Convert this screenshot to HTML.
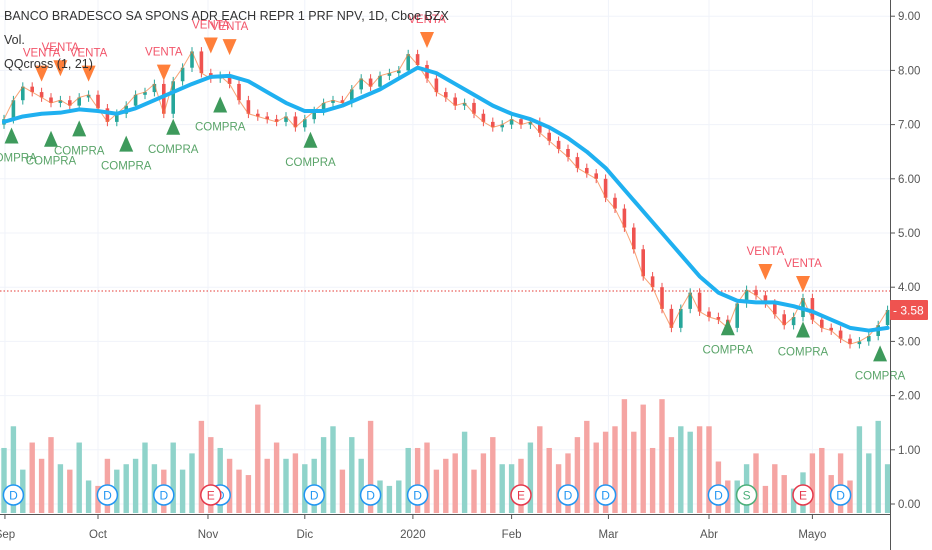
<!DOCTYPE html>
<html><head><meta charset="utf-8">
<style>
html,body{margin:0;padding:0;background:#fff;}
#wrap{position:relative;width:932px;height:550px;overflow:hidden;font-family:"Liberation Sans",sans-serif;}
svg{position:absolute;left:0;top:0;}
.lg{position:absolute;left:4px;font-size:12.5px;color:#333;}
</style></head>
<body>
<div id="wrap">
<svg id="svg" width="932" height="550"></svg>
<div class="lg" style="top:9px">BANCO BRADESCO SA SPONS ADR EACH REPR 1 PRF NPV, 1D, Cboe BZX</div>
<div class="lg" style="top:33px">Vol.</div>
<div class="lg" style="top:57px">QQcross (1, 21)</div>
</div>
<script>
const closes=[7.1,7.45,7.7,7.6,7.5,7.4,7.45,7.35,7.5,7.55,7.3,7.05,7.2,7.35,7.55,7.6,7.75,7.2,7.8,8.05,8.35,7.95,7.85,7.9,7.75,7.45,7.2,7.15,7.1,7.05,7.15,6.95,7.1,7.25,7.4,7.45,7.4,7.65,7.85,7.7,7.9,7.95,8.0,8.3,8.1,7.85,7.6,7.5,7.35,7.4,7.2,7.05,6.95,7.0,7.1,7.0,7.05,6.85,6.7,6.55,6.4,6.2,6.1,6.0,5.65,5.45,5.1,4.7,4.2,4.0,3.6,3.25,3.6,3.9,3.55,3.45,3.4,3.25,3.7,3.95,3.85,3.7,3.5,3.3,3.45,3.8,3.4,3.25,3.2,3.05,2.95,3.0,3.1,3.3,3.58];
const maValues=[7.05,7.15,7.2,7.22,7.28,7.25,7.2,7.3,7.45,7.6,7.75,7.88,7.9,7.8,7.6,7.4,7.25,7.25,7.35,7.5,7.65,7.85,8.05,7.95,7.75,7.55,7.35,7.2,7.1,6.95,6.75,6.5,6.2,5.8,5.4,5.0,4.6,4.2,3.9,3.75,3.72,3.72,3.65,3.55,3.4,3.25,3.2,3.25];
const volumes=[1.2,1.6,0.8,1.3,1.0,1.4,0.9,0.8,1.3,0.6,0.5,1.0,0.8,0.9,1.0,1.3,0.9,0.8,1.3,0.8,1.1,1.7,1.4,1.2,1.0,0.8,0.7,2.0,1.0,1.3,1.0,1.1,0.9,1.0,1.4,1.6,0.8,1.4,1.0,1.7,0.6,0.5,0.6,1.2,1.2,1.3,0.8,1.0,1.1,1.5,0.8,1.1,1.4,0.9,0.9,1.0,1.3,1.6,1.2,0.9,1.1,1.4,1.7,1.3,1.5,1.6,2.1,1.5,2.0,1.2,2.1,1.4,1.6,1.5,1.6,1.6,0.95,0.6,0.6,0.9,1.1,0.5,0.9,0.7,0.45,0.75,1.1,1.2,0.7,1.1,0.6,1.6,1.1,1.7,0.9];
const ventaIdx=[4,6,9,17,22,24,45,81,85];
const ventaPrice=[7.94,8.04,7.94,7.96,8.46,8.43,8.56,4.28,4.06];
const compraIdx=[0.8,5,8,13,18,23,32.6,77,85,93.2];
const compraPrice=[6.8,6.74,6.93,6.65,6.96,7.37,6.72,3.26,3.22,2.78];
const eventIdx=[1,11,17,23,22,33,39,44,55,60,64,76,79,85,89];
const eventType=["D","D","D","D","E","D","D","D","E","D","D","D","S","E","D"];
const monthLabels=["Sep","Oct","Nov","Dic","2020","Feb","Mar","Abr","Mayo"];
const monthIdx=[0.1,10,21.7,32,43.5,54,64.3,75,86];
const yTicks=[9,8,7,6,5,4,3,2,1,0];
const lastPrice=3.58, refLine=3.93;

const NS="http://www.w3.org/2000/svg";
const svg=document.getElementById('svg');
const X=i=>4+i*9.4;
const Y=p=>504-p*54.2;
const VY=v=>513-v*54.2;
function mk(tag,attrs,parent){const e=document.createElementNS(NS,tag);for(const k in attrs)e.setAttribute(k,attrs[k]);(parent||svg).appendChild(e);return e;}

// grid
yTicks.forEach(t=>{const l=mk('line',{x1:0,x2:890,y1:Y(t),y2:Y(t),stroke:'#f0f3fa','stroke-width':1});

});
monthIdx.forEach(m=>{const l=mk('line',{x1:X(m),x2:X(m),y1:0,y2:514,stroke:'#f0f3fa','stroke-width':1});

});

// volume
volumes.forEach((v,i)=>{const up=i==0||closes[i]>=closes[i-1];
const r=mk('rect',{x:X(i)-2.7,y:VY(v),width:5.4,height:513-VY(v),fill:up?'#8fd3ca':'#f5a5a3'});

});

// red ref line
const rl=mk('line',{x1:0,x2:890,y1:Y(refLine),y2:Y(refLine),stroke:'#e53935','stroke-width':1,'stroke-dasharray':'1.5,2'});



// candles
closes.forEach((c,i)=>{const o=i==0?c-0.1:closes[i-1];const up=c>=o;const col=up?'#26a69a':'#ef5350';
const hi=Math.max(o,c)+0.08, lo=Math.min(o,c)-0.08;
const w=mk('line',{x1:X(i),x2:X(i),y1:Y(hi),y2:Y(lo),stroke:col,'stroke-width':1});


const b=mk('rect',{x:X(i)-1.8,y:Y(Math.max(o,c)),width:3.6,height:Math.max(1,Math.abs(Y(o)-Y(c))),fill:col});

});
// close line (thin orange)
const cl=mk('polyline',{points:closes.map((c,i)=>X(i)+','+Y(c)).join(' '),fill:'none',stroke:'#f57c3a','stroke-width':1,opacity:0.7});



// MA
const ma=mk('polyline',{points:maValues.map((v,i)=>X(i*2)+','+Y(v)).join(' '),fill:'none',stroke:'#1fb0f0','stroke-width':4,'stroke-linejoin':'round','stroke-linecap':'round'});



// signals
ventaIdx.forEach((idx,k)=>{const x=X(idx),y=Y(ventaPrice[k]);
const t=mk('polygon',{points:`${x-7},${y-8} ${x+7},${y-8} ${x},${y+8}`,fill:'#ff7f3a'});


const tx=mk('text',{x:x,y:y-17,'text-anchor':'middle','font-size':11.5,fill:'#f2556a','font-family':'Liberation Sans, sans-serif'});
tx.textContent='VENTA';

});
compraIdx.forEach((idx,k)=>{const x=X(idx),y=Y(compraPrice[k]);
const t=mk('polygon',{points:`${x-7},${y+8} ${x+7},${y+8} ${x},${y-8}`,fill:'#3e9a5c'});


const tx=mk('text',{x:x,y:y+26,'text-anchor':'middle','font-size':11.5,fill:'#5aa469','font-family':'Liberation Sans, sans-serif'});
tx.textContent='COMPRA';

});

// events
eventIdx.forEach((idx,k)=>{const x=X(idx);const ty=eventType[k];const col=ty=='E'?'#e5394c':ty=='S'?'#4caf7a':'#2196f3';
const c=mk('circle',{cx:x,cy:495,r:10,fill:'#fff',stroke:col,'stroke-width':1.5});


const t=mk('text',{x:x,y:499.5,'text-anchor':'middle','font-size':12,fill:col,'font-family':'Liberation Sans, sans-serif'});
t.textContent=ty;

});

// axes
const ax=mk('line',{x1:890.5,x2:890.5,y1:0,y2:550,stroke:'#555','stroke-width':1});


const tx=mk('line',{x1:0,x2:890,y1:514.5,y2:514.5,stroke:'#555','stroke-width':1});


yTicks.forEach(t=>{const tk=mk('line',{x1:890,x2:895,y1:Y(t),y2:Y(t),stroke:'#555'});


const l=mk('text',{x:898,y:Y(t)+4,'font-size':11.5,fill:'#555','font-family':'Liberation Sans, sans-serif'});
l.textContent=t.toFixed(2);

});
monthLabels.forEach((m,k)=>{const x=X(monthIdx[k]);
const tk=mk('line',{x1:x,x2:x,y1:514,y2:519,stroke:'#555'});


const l=mk('text',{x:x,y:538,'text-anchor':'middle','font-size':11.5,fill:'#555','font-family':'Liberation Sans, sans-serif'});
l.textContent=m;

});

// last price tag
const py=Y(lastPrice);
const pr=mk('rect',{x:890,y:py-10,width:38,height:20,fill:'#ef5350',rx:1});


const pt=mk('text',{x:893,y:py+4.5,'font-size':12,fill:'#fff','font-family':'Liberation Sans, sans-serif'});
pt.textContent='- '+lastPrice.toFixed(2);


</script>
</body></html>
